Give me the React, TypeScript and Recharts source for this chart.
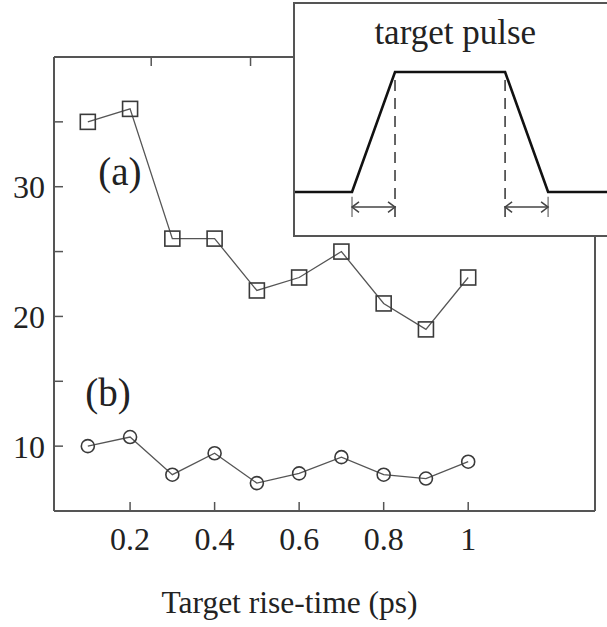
import React from 'react';
import { LineChart, Line, XAxis, YAxis, ReferenceDot, ReferenceLine, Label } from 'recharts';

// rise time (ps) and the two measured curves
const riseTimes = [0.1, 0.2, 0.3, 0.4, 0.5, 0.6, 0.7, 0.8, 0.9, 1.0];
const curveA = [35, 36, 26, 26, 22, 23, 25, 21, 19, 23];
const curveB = [10, 10.7, 7.8, 9.45, 7.15, 7.9, 9.15, 7.8, 7.5, 8.8];

const xTicks = [0.2, 0.4, 0.6, 0.8, 1];
const topTicks = [0.25, 0.485];
const yTicks = [10, 15, 20, 25, 30, 35];

// inset: sketch of the trapezoid target pulse
const pulseTime = [-1.326, 0, 1, 3.56, 4.56, 5.93];
const pulseLevel = [0, 0, 1, 1, 0, 0];

const data = riseTimes.map((t, i) => ({ t, a: curveA[i], b: curveB[i] }));
const pulse = pulseTime.map((t, i) => ({ t, v: pulseLevel[i] }));

const serif = "'Liberation Serif', 'DejaVu Serif', serif";
const axisColor = '#555';
const ink = '#222';

const SquareDot = (props: any) => {
  const { cx, cy, index } = props;
  if (cx == null || cy == null) return null;
  return (
    <rect key={`sq-${index}`} x={cx - 7.5} y={cy - 7.5} width={15} height={15}
      fill="none" stroke="#3a3a3a" strokeWidth={1.6} />
  );
};

const CircleDot = (props: any) => {
  const { cx, cy, index } = props;
  if (cx == null || cy == null) return null;
  return <circle key={`ci-${index}`} cx={cx} cy={cy} r={6.5} fill="none" stroke="#3a3a3a" strokeWidth={1.6} />;
};

const DoubleArrow = (p: any) => {
  const { x1, y1, x2, y2 } = p;
  const h = 7;
  return (
    <g stroke="#444" strokeWidth={1.5} fill="none">
      <line x1={x1} y1={y1} x2={x2} y2={y2} />
      <polyline points={`${x1 + h},${y1 - h * 0.75} ${x1},${y1} ${x1 + h},${y1 + h * 0.75}`} />
      <polyline points={`${x2 - h},${y2 - h * 0.75} ${x2},${y2} ${x2 - h},${y2 + h * 0.75}`} />
    </g>
  );
};

function PulseInset() {
  return (
    <div style={{
      position: 'absolute', left: 293, top: 2, width: 320, height: 235,
      boxSizing: 'border-box', background: '#fff',
      borderTop: `2px solid ${axisColor}`, borderLeft: `2px solid ${axisColor}`,
      borderBottom: `2px solid ${axisColor}`,
    }}>
      <LineChart width={312} height={231} data={pulse} margin={{ top: 0, right: 0, bottom: 0, left: 0 }}>
        <XAxis dataKey="t" type="number" domain={[-1.326, 5.93]} hide allowDataOverflow />
        <YAxis type="number" domain={[-0.358, 1.567]} hide allowDataOverflow />
        <ReferenceLine segment={[{ x: 1, y: 0.933 }, { x: 1, y: -0.208 }]}
          stroke="#555" strokeWidth={1.8} strokeDasharray="11 7" />
        <ReferenceLine segment={[{ x: 3.56, y: 0.933 }, { x: 3.56, y: -0.208 }]}
          stroke="#555" strokeWidth={1.8} strokeDasharray="11 7" />
        <ReferenceLine segment={[{ x: 0, y: -0.04 }, { x: 0, y: -0.208 }]} stroke="#666" strokeWidth={1.2} />
        <ReferenceLine segment={[{ x: 4.56, y: -0.04 }, { x: 4.56, y: -0.208 }]} stroke="#666" strokeWidth={1.2} />
        <ReferenceLine segment={[{ x: 0, y: -0.125 }, { x: 1, y: -0.125 }]} shape={DoubleArrow} />
        <ReferenceLine segment={[{ x: 3.56, y: -0.125 }, { x: 4.56, y: -0.125 }]} shape={DoubleArrow} />
        <Line dataKey="v" type="linear" stroke="#111" strokeWidth={2.6} dot={false} isAnimationActive={false} />
        <ReferenceDot x={2.4} y={1.34} r={0} stroke="none"
          label={{ value: 'target pulse', position: 'center', fontSize: 35, fill: ink, fontFamily: serif }} />
      </LineChart>
    </div>
  );
}

export default function App() {
  const tickStyle = { fontSize: 32, fill: ink, fontFamily: serif };
  return (
    <div style={{ position: 'absolute', left: 0, top: 0, width: 607, height: 627, overflow: 'hidden', background: '#fff' }}>
      <LineChart width={607} height={627} data={data} margin={{ top: 56, right: 0, bottom: 0, left: 0 }}>
        <XAxis dataKey="t" type="number" domain={[0.02, 1.3]} ticks={xTicks}
          height={116} tick={tickStyle} tickSize={-9} tickMargin={25}
          axisLine={{ stroke: axisColor, strokeWidth: 2 }} tickLine={{ stroke: axisColor, strokeWidth: 1.5 }}>
          <Label value="Target rise-time (ps)" position="insideBottom" offset={14} dx={-35}
            fontSize={31.5} fill={ink} fontFamily={serif} />
        </XAxis>
        <XAxis xAxisId="top" orientation="top" dataKey="t" type="number" domain={[0.02, 1.3]} ticks={topTicks}
          height={1} tickSize={-9} tickFormatter={() => ''}
          axisLine={{ stroke: axisColor, strokeWidth: 2 }} tickLine={{ stroke: axisColor, strokeWidth: 1.5 }} />
        <YAxis type="number" domain={[5, 40]} ticks={yTicks} width={54}
          tick={tickStyle} tickSize={-9} tickMargin={18}
          tickFormatter={(v: number) => (v % 10 === 0 ? String(v) : '')}
          axisLine={{ stroke: axisColor, strokeWidth: 2 }} tickLine={{ stroke: axisColor, strokeWidth: 1.5 }} />
        <YAxis yAxisId="right" orientation="right" type="number" domain={[5, 40]} ticks={yTicks} width={12}
          tickSize={-9} tickFormatter={() => ''}
          axisLine={{ stroke: axisColor, strokeWidth: 2 }} tickLine={{ stroke: axisColor, strokeWidth: 1.5 }} />
        <Line dataKey="a" type="linear" stroke="#555" strokeWidth={1.3} dot={SquareDot} isAnimationActive={false} />
        <Line dataKey="b" type="linear" stroke="#555" strokeWidth={1.3} dot={CircleDot} isAnimationActive={false} />
        <ReferenceDot x={0.176} y={31.2} r={0} stroke="none"
          label={{ value: '(a)', position: 'center', fontSize: 39, fill: ink, fontFamily: serif }} />
        <ReferenceDot x={0.148} y={14.2} r={0} stroke="none"
          label={{ value: '(b)', position: 'center', fontSize: 39, fill: ink, fontFamily: serif }} />
      </LineChart>
      <PulseInset />
    </div>
  );
}
